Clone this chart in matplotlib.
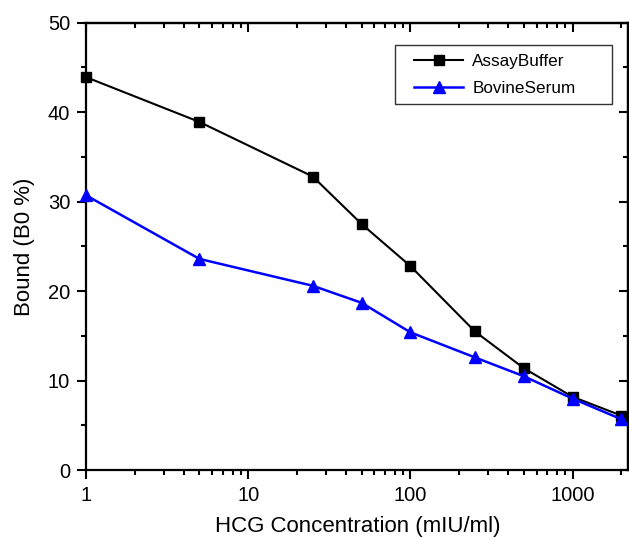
import matplotlib
matplotlib.use('Agg')
import matplotlib.pyplot as plt
from matplotlib.legend_handler import HandlerLine2D
from matplotlib.ticker import LogLocator, MultipleLocator, NullFormatter, FixedFormatter, FixedLocator

plt.rcParams['font.family'] = ['Liberation Sans', 'DejaVu Sans']

concentration = [1, 5, 25, 50, 100, 250, 500, 1000, 2000]
assay_buffer = [43.9, 38.9, 32.8, 27.5, 22.8, 15.5, 11.4, 8.2, 6.1]
bovine_serum = [30.7, 23.6, 20.6, 18.7, 15.4, 12.6, 10.5, 8.0, 5.7]

x_ticks = [1, 10, 100, 1000]
x_tick_labels = ['1', '10', '100', '1000']

fig = plt.figure(figsize=(6.29, 5.38), dpi=100)
ax = fig.add_axes([0.137, 0.126, 0.862, 0.832])

l1, = ax.plot(concentration, assay_buffer, color='black', lw=1.5, marker='s', ms=6.5,
              label='AssayBuffer', clip_on=False, zorder=3)
l2, = ax.plot(concentration, bovine_serum, color='blue', lw=1.8, marker='^', ms=9,
              label='BovineSerum', clip_on=False, zorder=3)

ax.set_xscale('log')
ax.set_xlim(1, 2210)
ax.set_ylim(0, 50)

ax.xaxis.set_major_locator(FixedLocator(x_ticks))
ax.xaxis.set_major_formatter(FixedFormatter(x_tick_labels))
ax.xaxis.set_minor_locator(LogLocator(base=10, subs=range(2, 10), numticks=20))
ax.xaxis.set_minor_formatter(NullFormatter())
ax.yaxis.set_major_locator(MultipleLocator(10))
ax.yaxis.set_minor_locator(MultipleLocator(5))

for s in ax.spines.values():
    s.set_linewidth(1.6)

ax.tick_params(which='both', direction='out', width=1.5, labelsize=14.5,
               top=False, right=False)
ax.tick_params(which='major', length=6.5)
ax.tick_params(which='minor', length=3.5)
ax.tick_params(axis='y', which='major', pad=5)
ax.tick_params(axis='x', which='major', pad=5)

# inward ticks on the opposite sides
ax2 = ax.secondary_xaxis('top')
ax2.xaxis.set_major_locator(FixedLocator(x_ticks))
ax2.xaxis.set_minor_locator(LogLocator(base=10, subs=range(2, 10), numticks=20))
ax2.tick_params(which='both', direction='in', width=1.5, labeltop=False)
ax2.tick_params(which='major', length=6.5)
ax2.tick_params(which='minor', length=3.5)
ax2.xaxis.set_major_formatter(NullFormatter())
ax2.xaxis.set_minor_formatter(NullFormatter())
ax2.spines['top'].set_linewidth(1.6)

ay2 = ax.secondary_yaxis('right')
ay2.yaxis.set_major_locator(MultipleLocator(10))
ay2.yaxis.set_minor_locator(MultipleLocator(5))
ay2.tick_params(which='both', direction='in', width=1.5, labelright=False)
ay2.tick_params(which='major', length=6.5)
ay2.tick_params(which='minor', length=3.5)
ay2.spines['right'].set_linewidth(1.6)

ax.set_xlabel('HCG Concentration (mIU/ml)', fontsize=16, labelpad=8)
ax.set_ylabel('Bound (B0 %)', fontsize=16, labelpad=9)

hmap = {l1: HandlerLine2D(xpad=0.61), l2: HandlerLine2D(xpad=0.61)}
leg = ax.legend(loc='upper left', bbox_to_anchor=(0.570, 0.950, 0.399, 0.0),
                mode='expand', borderaxespad=0, fontsize=12.3,
                frameon=True, fancybox=False, edgecolor='black',
                handlelength=3.48, handletextpad=0.53, handler_map=hmap,
                borderpad=0.5, labelspacing=0.72)
leg.get_frame().set_linewidth(1.0)

fig.savefig('out.png', dpi=100)
